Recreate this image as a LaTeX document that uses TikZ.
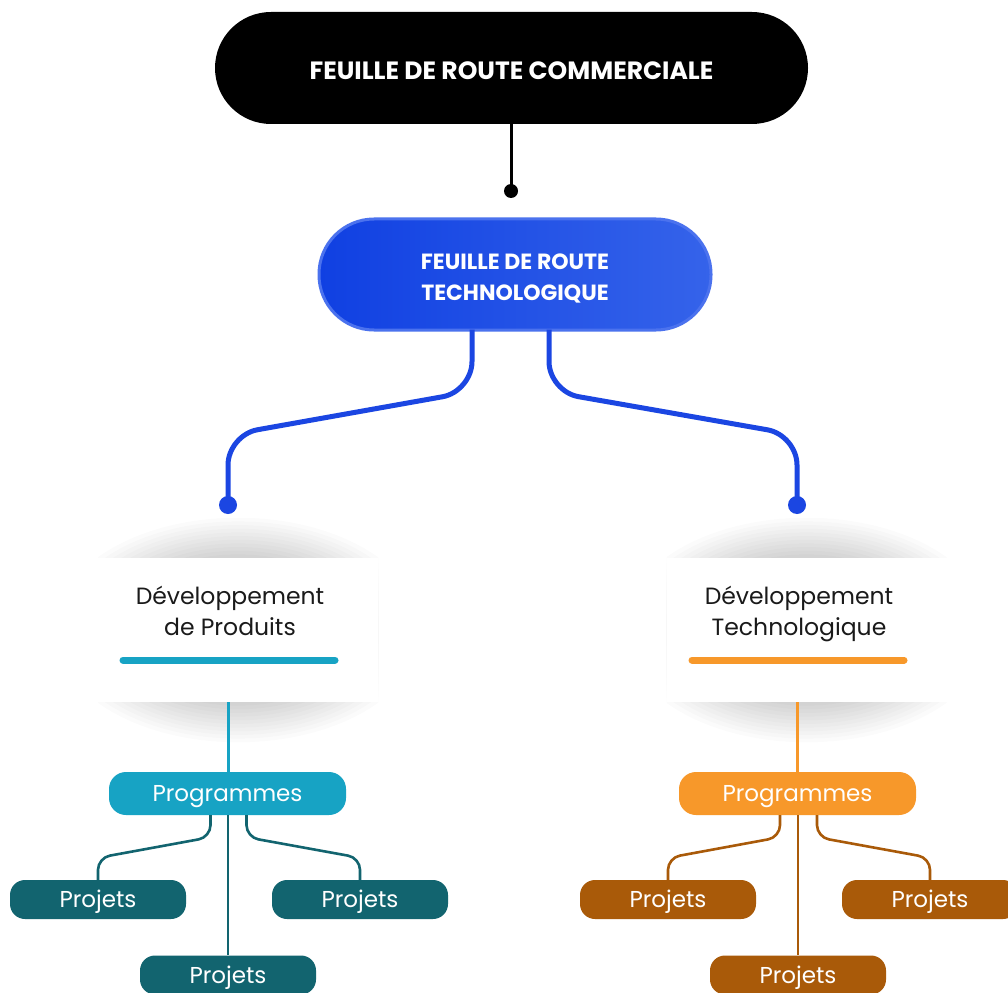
\documentclass[tikz,border=0pt]{standalone}
\usepackage{fontspec}
\setmainfont{Poppins}
\usetikzlibrary{calc}
\definecolor{bluedark}{HTML}{1040E2}
\definecolor{bluelight}{HTML}{3563EA}
\definecolor{bluering}{HTML}{4B72EE}
\definecolor{blueline}{HTML}{1B46E2}
\definecolor{tealmain}{HTML}{17A3C4}
\definecolor{tealdeep}{HTML}{12646F}
\definecolor{orangemain}{HTML}{F7982A}
\definecolor{orangedeep}{HTML}{A95A09}
\definecolor{inkgray}{HTML}{1A1A1A}
\tikzset{
  pill/.style={rectangle, inner sep=0pt, text=white, align=center},
  titlepill/.style={pill, fill=black, minimum width=593pt, minimum height=112pt,
    rounded corners=56pt},
  techpill/.style={pill, left color=bluedark, right color=bluelight, draw=bluering,
    line width=3pt, minimum width=392pt, minimum height=111pt, rounded corners=55pt},
  pilltext/.style={align=center, text=white, inner sep=0pt, text depth=0pt},
  progpill/.style={pill, minimum width=237pt, minimum height=43pt, rounded corners=17pt,
    font=\fontsize{23}{26}\selectfont, text height=16pt, text depth=0pt},
  projpill/.style={pill, minimum width=176pt, minimum height=39pt, rounded corners=15pt,
    font=\fontsize{23}{26}\selectfont, text height=16pt, text depth=0pt},
  card/.style={rectangle, fill=white, inner sep=0pt, minimum width=280pt, minimum height=144pt},
  cardtext/.style={align=center, text=inkgray, inner sep=0pt, text height=48pt, text depth=0pt,
    font=\fontsize{23.5}{31}\selectfont},
  enddot/.style={circle, inner sep=0pt, minimum size=#1},
  topline/.style={line width=3pt, black},
  techline/.style={line width=5pt, blueline, rounded corners=30pt},
  subline/.style={line width=2.6pt, rounded corners=12pt},
}
% soft shadow around a card: stacked translucent ellipses, clipped to the card column
\newcommand{\cardshadow}[2]{%
  \begin{scope}
    \clip (#1-140,#2-112) rectangle (#1+140,#2+112);
    \foreach \k in {0,...,12}{
      \fill[black, opacity=0.016] (#1,#2) ellipse [x radius={200*(0.92-0.03*\k)}, y radius={122*(0.92-0.03*\k)}];
    }
  \end{scope}}
\begin{document}
\begin{tikzpicture}[x=1pt, y=-1pt]
\path[use as bounding box, fill=white] (0,0) rectangle (1008,992);

% top level
\node[titlepill] (comm) at (511.5,68) {};
\node[pilltext, text height=17.5pt, font=\bfseries\fontsize{25}{31}\selectfont] (commtxt)
  at ([yshift=-3pt]comm.center) {FEUILLE DE ROUTE COMMERCIALE};
\node[enddot=14pt, fill=black] (dtop) at (511,191) {};
\draw[topline] (comm.south -| dtop) -- (dtop.center);

\node[techpill] (tech) at (515,274.5) {};
\node[pilltext, text height=46.4pt, font=\bfseries\fontsize{22}{31}\selectfont] (techtxt)
  at ([yshift=-3pt]tech.center) {FEUILLE DE ROUTE\\TECHNOLOGIQUE};

% branch dots
\node[enddot=18pt, fill=blueline] (dl) at (228,505) {};
\node[enddot=18pt, fill=blueline] (dr) at (797,505) {};
\draw[techline] ($(tech.south)+(-43,-2)$) -- ++(0,62) -- ([yshift=70pt]dl.center) -- (dl.center);
\draw[techline] ($(tech.south)+(34,-2)$) -- ++(0,62) -- ([yshift=70pt]dr.center) -- (dr.center);

% cards with soft shadows
\cardshadow{238}{630}
\cardshadow{806.5}{630}
\node[card] (cardL) at (238,630) {};
\node[card] (cardR) at (806.5,630) {};
\node[cardtext] (devL) at (230,611) {Développement\\de Produits};
\node[cardtext] (devR) at (799,611) {Développement\\Technologique};
\draw[line width=7pt, line cap=round, tealmain] (123,660) -- (335,660);
\draw[line width=7pt, line cap=round, orangemain] (692,660) -- (904,660);

% programme pills
\node[progpill, fill=tealmain] (progL) at (227.5,793.5) {Programmes};
\node[progpill, fill=orangemain] (progR) at (797.5,793.5) {Programmes};
\draw[line width=3pt, tealmain] (cardL.south -| 228,0) -- (progL.north -| 228,0);
\draw[line width=3pt, orangemain] (cardR.south -| 797,0) -- (progR.north -| 797,0);

% project pills, left branch
\node[projpill, fill=tealdeep] (pL1) at (98,899.5) {Projets};
\node[projpill, fill=tealdeep] (pL2) at (360,899.5) {Projets};
\node[projpill, fill=tealdeep] (pL3) at (228,975) {Projets};
\draw[subline, tealdeep] ($(progL.south)+(-17,0)$) -- ++(0,22) -- ([yshift=22pt]pL1.north) -- (pL1.north);
\draw[subline, tealdeep] ($(progL.south)+(19,0)$) -- ++(0,22) -- ([yshift=22pt]pL2.north) -- (pL2.north);
\draw[line width=2.6pt, tealdeep] (progL.south -| pL3) -- (pL3.north);

% project pills, right branch
\node[projpill, fill=orangedeep] (pR1) at (668,899.5) {Projets};
\node[projpill, fill=orangedeep] (pR2) at (930,899.5) {Projets};
\node[projpill, fill=orangedeep] (pR3) at (798,975) {Projets};
\draw[subline, orangedeep] ($(progR.south)+(-17.5,0)$) -- ++(0,22) -- ([yshift=22pt]pR1.north) -- (pR1.north);
\draw[subline, orangedeep] ($(progR.south)+(19.5,0)$) -- ++(0,22) -- ([yshift=22pt]pR2.north) -- (pR2.north);
\draw[line width=2.6pt, orangedeep] (progR.south -| pR3) -- (pR3.north);
\end{tikzpicture}
\end{document}
